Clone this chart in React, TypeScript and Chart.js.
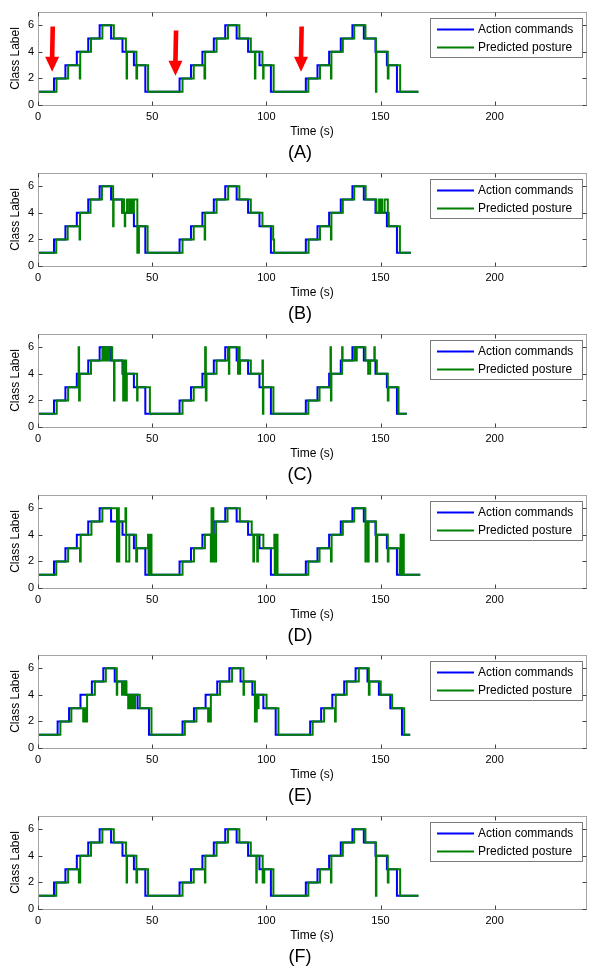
import React, { useEffect, useRef } from 'react';
import { Chart, registerables } from 'chart.js';

Chart.register(...registerables);

// ---------- data ----------
const xTicks = [0, 50, 100, 150, 200];
const yTicks = [0, 2, 4, 6];
const xMax = 240;
const yMax = 7;
const panelLetters = ['(A)', '(B)', '(C)', '(D)', '(E)', '(F)'];
const seriesNames = ['Action commands', 'Predicted posture'];
const xTitle = 'Time (s)';
const yTitle = 'Class Label';

// red arrows in panel A: time, top value, tip value
const arrowTimes = [6.2, 60.2, 115.2];
const arrowTops = [5.9, 5.6, 5.9];
const arrowTips = [2.5, 2.2, 2.5];

// [time, class]
const actionA = [[0,1],[7,2],[12,3],[17,4],[22,5],[27,6],[32,5],[37,4],[42,3],[47,1],[62,2],[67,3],[72,4],[77,5],[82,6],[87,5],[92,4],[97,3],[102,1],[117.3,2],[122.4,3],[127.5,4],[132.6,5],[137.7,6],[142.7,5],[147.8,4],[152.8,3],[157.2,1],[166.5,1]];
const postureA = [[0,1],[8.1,2],[13.2,3],[18.3,2],[18.5,4],[23.2,5],[28.2,6],[33.2,5],[38.5,4],[38.8,2],[39,4],[43.1,2],[43.4,3],[48.2,1],[63.3,2],[68.2,3],[72.9,2],[73.2,4],[78.2,5],[83.2,6],[88.2,5],[93.2,4],[95,2],[95.2,4],[98.3,3],[98.6,2],[98.8,3],[103.2,1],[118.4,2],[123.5,3],[128.3,2],[128.5,4],[133.5,5],[138.5,6],[143.4,5],[148,1],[148.2,4],[153.2,2],[153.5,3],[158.6,1],[166.7,1]];

const actionB = [[0,1],[7,2],[12,3],[17,4],[22,5],[27,6],[32,5],[37,4],[42,3],[47,1],[62,2],[67,3],[72,4],[77,5],[82,6],[87,5],[92,4],[97,3],[102,1],[117.3,2],[122.4,3],[127.5,4],[132.6,5],[137.7,6],[142.7,5],[147.8,4],[152.8,3],[157.2,1],[163.3,1]];
const postureB = [[0,1],[8,2],[13,3],[18.2,2],[18.4,4],[23,5],[28,6],[32.9,3],[33.1,5],[36.8,4],[37.5,5],[37.7,4],[38,3],[38.2,4],[39,5],[39.3,4],[40.2,5],[40.5,4],[41.2,5],[41.5,4],[42,5],[43.5,1],[43.7,3],[44,1],[44.2,3],[48,1],[63.3,2],[68.2,3],[73,2],[73.2,4],[78.2,5],[83.3,6],[88.2,5],[93.2,4],[98.3,3],[103,2],[103.4,1],[118.5,2],[123.5,3],[128.3,2],[128.5,4],[133.5,5],[138.5,6],[143.5,5],[148.2,4],[149.4,5],[149.7,4],[150.4,5],[150.7,4],[151.8,5],[153.2,4],[153.6,3],[158.5,1],[163.3,1]];

const actionC = [[0,1],[7,2],[12,3],[17,4],[22,5],[27,6],[32,5],[37,4],[42,3],[47,1],[62,2],[67,3],[72,4],[77,5],[82,6],[87,5],[92,4],[97,3],[102,1],[117.3,2],[122.4,3],[127.5,4],[132.6,5],[137.7,6],[142.7,5],[147.8,4],[152.8,3],[157.2,1],[161.5,1]];
const postureC = [[0,1],[8.2,2],[13.2,3],[17.8,6],[18,2],[18.3,4],[23.2,5],[28.2,6],[29,5],[29.3,6],[30,5],[30.3,6],[31,5],[31.3,6],[32.5,5],[33.3,2],[33.5,5],[37.3,2],[37.5,5],[38,2],[38.2,5],[38.6,2],[38.9,4],[43.4,2],[43.6,3],[49,1],[63.3,2],[68.2,3],[73.2,6],[73.5,2],[73.8,4],[78.2,5],[83.2,6],[83.6,4],[83.8,6],[87.6,4],[87.8,6],[88.3,4],[88.5,5],[93.2,4],[98.3,5],[98.5,1],[98.7,3],[103.1,1],[118.4,2],[123.3,3],[128.1,6],[128.3,2],[128.5,4],[133.2,6],[133.4,5],[138.5,6],[139.3,5],[139.6,6],[143.4,5],[144.6,4],[145.5,5],[147.3,6],[147.5,5],[148.4,4],[153.2,2],[153.5,3],[157.9,1],[161.5,1]];

const actionD = [[0,1],[7,2],[12,3],[17,4],[22,5],[27,6],[32,5],[37,4],[42,3],[47,1],[62,2],[67,3],[72,4],[77,5],[82,6],[87,5],[92,4],[97,3],[102,1],[117.3,2],[122.4,3],[127.5,4],[132.6,5],[137.7,6],[142.7,5],[147.8,4],[152.8,3],[157.2,1],[167.4,1]];
const postureD = [[0,1],[8,2],[13.2,3],[18.4,2],[18.7,4],[23.4,5],[28.2,6],[34.6,2],[34.8,6],[35,2],[35.2,6],[35.4,2],[35.6,5],[38.3,6],[38.6,2],[40,4],[43,2],[43.4,3],[48.2,4],[48.4,1],[48.6,4],[48.8,1],[49,4],[49.2,1],[49.5,4],[49.7,1],[63.3,2],[68.3,3],[73.1,4],[75.7,2],[76,6],[76.2,2],[76.6,6],[76.8,2],[77.3,4],[77.6,2],[78,5],[83,6],[88.4,5],[93.6,4],[94.3,2],[94.6,4],[96,2],[96.3,4],[98.7,3],[103.5,4],[103.7,1],[104,4],[104.3,1],[104.6,4],[104.9,1],[118.4,2],[123.3,3],[128.3,2],[128.6,4],[133.5,5],[138.5,6],[143.4,2],[143.6,5],[144.5,2],[144.8,5],[148,2],[148.6,4],[153.2,2],[153.5,3],[158.4,1],[158.8,4],[159.1,1],[159.4,4],[159.7,1],[160,4],[160.2,1],[167.4,1]];

const actionE = [[0,1],[8.6,2],[13.6,3],[18.6,4],[23.6,5],[28.6,6],[33.6,5],[38.6,4],[43.6,3],[48.6,1],[63.3,2],[68.3,3],[73.4,4],[78.5,5],[83.8,6],[88.7,5],[93.9,4],[98.7,3],[104.1,1],[119.2,2],[124,3],[128.9,4],[134.1,5],[139.1,6],[144.3,5],[149.3,4],[154.3,3],[159.4,1],[163,1]];
const postureE = [[0,1],[9.8,2],[14.6,3],[19.8,2],[20,3],[20.3,2],[20.5,3],[20.8,2],[21,3],[21.2,2],[21.5,4],[24.9,5],[29.7,6],[34.5,4],[34.7,5],[36.8,4],[37,5],[37.4,4],[37.6,5],[38,4],[38.2,5],[38.7,4],[39.5,3],[39.7,4],[40.2,3],[40.4,4],[40.9,3],[41.1,4],[41.6,3],[41.8,4],[42.3,3],[42.5,4],[44.6,3],[49.7,1],[64.3,2],[69.4,3],[74.5,2],[74.7,3],[75.5,2],[75.7,4],[79.7,5],[85,6],[90,4],[90.2,5],[95,2],[95.2,4],[95.6,2],[95.8,4],[96.4,3],[96.6,4],[100.1,3],[105.3,1],[120.3,2],[125.3,3],[130.1,2],[130.4,4],[135.2,5],[140.5,6],[144.9,4],[145.2,5],[150.1,4],[155.1,3],[160.4,1],[163,1]];

const actionF = [[0,1],[7,2],[12,3],[17,4],[22,5],[27,6],[32,5],[37,4],[42,3],[47,1],[62,2],[67,3],[72,4],[77,5],[82,6],[87,5],[92,4],[97,3],[102,1],[117.3,2],[122.4,3],[127.5,4],[132.6,5],[137.7,6],[142.7,5],[147.8,4],[152.8,3],[157.2,1],[166.5,1]];
const postureF = [[0,1],[8,2],[13.2,3],[17.9,2],[18.1,3],[18.3,2],[18.5,4],[23.2,5],[28.2,6],[33.2,5],[38.5,4],[38.8,2],[39,4],[43.1,2],[43.4,3],[48.2,1],[63.3,2],[68.2,3],[73.1,2],[73.3,4],[78.2,5],[83.2,6],[88.2,5],[93.2,4],[95.6,2],[95.8,4],[98.4,2],[98.6,3],[98.9,2],[99.1,3],[103.1,1],[118.4,2],[123.5,3],[128.3,2],[128.5,4],[133.5,5],[138.5,6],[143.4,5],[148,1],[148.2,4],[153.2,2],[153.5,3],[158.6,1],[166.7,1]];

const actionSeries = [actionA, actionB, actionC, actionD, actionE, actionF];
const postureSeries = [postureA, postureB, postureC, postureD, postureE, postureF];

// ---------- styling ----------
const FONT = "'Liberation Sans', Arial, Helvetica, sans-serif";
const PANEL_H = 161;
const panelTops = [0, 161, 322, 483, 643, 804];

const framePlugin = {
  id: 'matlabFrame',
  afterDatasetsDraw(chart: any) {
    const { ctx, chartArea: a, scales } = chart;
    const xs = scales.x, ys = scales.y;
    ctx.save();
    ctx.strokeStyle = '#a3a3a3';
    ctx.lineWidth = 1;
    const l = Math.round(a.left) + 0.5, t = Math.round(a.top) + 0.5;
    const r = Math.round(a.right) + 0.5, b = Math.round(a.bottom) + 0.5;
    ctx.strokeRect(l, t, r - l, b - t);
    ctx.strokeStyle = '#404040';
    ctx.beginPath();
    xTicks.forEach((v) => {
      const px = Math.round(xs.getPixelForValue(v)) + 0.5;
      ctx.moveTo(px, b); ctx.lineTo(px, b - 4);
      ctx.moveTo(px, t); ctx.lineTo(px, t + 4);
    });
    yTicks.forEach((v) => {
      const py = Math.round(ys.getPixelForValue(v)) + 0.5;
      ctx.moveTo(l, py); ctx.lineTo(l + 4, py);
      ctx.moveTo(r, py); ctx.lineTo(r - 4, py);
    });
    ctx.stroke();
    ctx.restore();
  },
};

const legendPlugin = {
  id: 'boxLegend',
  afterDatasetsDraw(chart: any) {
    const { ctx, chartArea: a } = chart;
    const w = 152, h = 39;
    const x0 = Math.round(a.right) - 156, y0 = Math.round(a.top) + 6;
    ctx.save();
    ctx.fillStyle = '#ffffff';
    ctx.fillRect(x0, y0, w, h);
    ctx.strokeStyle = '#7a7a7a';
    ctx.lineWidth = 1;
    ctx.strokeRect(x0 + 0.5, y0 + 0.5, w, h);
    chart.data.datasets.forEach((ds: any, i: number) => {
      const y = y0 + 11.5 + i * 18;
      ctx.strokeStyle = ds.borderColor;
      ctx.lineWidth = 2;
      ctx.beginPath();
      ctx.moveTo(x0 + 7, y);
      ctx.lineTo(x0 + 44, y);
      ctx.stroke();
      ctx.fillStyle = '#000';
      ctx.font = `12px ${FONT}`;
      ctx.textBaseline = 'middle';
      ctx.textAlign = 'left';
      ctx.fillText(ds.label, x0 + 48, y);
    });
    ctx.restore();
  },
};

const arrowPlugin = {
  id: 'redArrows',
  afterDatasetsDraw(chart: any, _args: any, opts: any) {
    if (!opts || !opts.show) return;
    const { ctx, scales } = chart;
    const xs = scales.x, ys = scales.y;
    ctx.save();
    ctx.fillStyle = '#ff0000';
    arrowTimes.forEach((tv, i) => {
      const cx = xs.getPixelForValue(tv);
      const yTop = ys.getPixelForValue(arrowTops[i]);
      const yTip = ys.getPixelForValue(arrowTips[i]);
      const headLen = 15, headHalf = 7, shaftHalf = 2.3;
      ctx.beginPath();
      ctx.moveTo(cx - shaftHalf + 0.6, yTop);
      ctx.lineTo(cx + shaftHalf + 0.6, yTop);
      ctx.lineTo(cx + shaftHalf, yTip - headLen);
      ctx.lineTo(cx + headHalf, yTip - headLen);
      ctx.lineTo(cx, yTip);
      ctx.lineTo(cx - headHalf, yTip - headLen);
      ctx.lineTo(cx - shaftHalf, yTip - headLen);
      ctx.closePath();
      ctx.fill();
    });
    ctx.restore();
  },
};

const noGrid = { display: false, drawTicks: false, tickLength: 0, drawOnChartArea: false };

function Panel({ index }: { index: number }) {
  const ref = useRef<HTMLCanvasElement>(null);
  useEffect(() => {
    const action = actionSeries[index];
    const posture = postureSeries[index];
    const chart = new Chart(ref.current as HTMLCanvasElement, {
      type: 'line',
      data: {
        datasets: [
          {
            label: seriesNames[0],
            data: action.map(([x, y]) => ({ x, y })),
            borderColor: '#0000ff',
            backgroundColor: '#0000ff',
            borderWidth: 2,
            stepped: true,
            pointRadius: 0,
            fill: false,
            order: 2,
          },
          {
            label: seriesNames[1],
            data: posture.map(([x, y]) => ({ x, y })),
            borderColor: '#008000',
            backgroundColor: '#008000',
            borderWidth: 2,
            stepped: true,
            pointRadius: 0,
            fill: false,
            order: 1,
          },
        ],
      },
      options: {
        animation: false,
        responsive: false,
        events: [],
        layout: { padding: { top: 12, right: 14, left: 0, bottom: 0 } },
        plugins: {
          legend: { display: false },
          tooltip: { enabled: false },
          redArrows: { show: index === 0 },
        } as any,
        scales: {
          x: {
            type: 'linear',
            min: 0,
            max: xMax,
            afterBuildTicks: (s: any) => { s.ticks = xTicks.map((v) => ({ value: v })); },
            afterFit: (s: any) => { s.height = 56; },
            grid: noGrid,
            border: { display: false },
            ticks: { color: '#000', font: { family: FONT, size: 11 }, padding: 5, maxRotation: 0, autoSkip: false },
            title: { display: true, text: xTitle, color: '#000', font: { family: FONT, size: 12 }, padding: { top: 0, bottom: 22 } },
          },
          y: {
            type: 'linear',
            min: 0,
            max: yMax,
            afterBuildTicks: (s: any) => { s.ticks = yTicks.map((v) => ({ value: v })); },
            afterFit: (s: any) => { s.width = 38; },
            grid: noGrid,
            border: { display: false },
            ticks: { color: '#000', font: { family: FONT, size: 11 }, padding: 4, autoSkip: false },
            title: { display: true, text: yTitle, color: '#000', font: { family: FONT, size: 12 }, padding: { top: 8, bottom: 0 } },
          },
        },
      } as any,
      plugins: [framePlugin, legendPlugin, arrowPlugin],
    });
    return () => chart.destroy();
  }, [index]);

  return (
    <div style={{ position: 'absolute', left: 0, top: panelTops[index], width: 600, height: PANEL_H }}>
      <canvas ref={ref} width={600} height={PANEL_H} style={{ display: 'block' }} />
      <div
        style={{
          position: 'absolute',
          left: 0,
          top: 142,
          width: 600,
          textAlign: 'center',
          fontFamily: FONT,
          fontSize: 18,
          lineHeight: '21px',
          color: '#000',
        }}
      >
        {panelLetters[index]}
      </div>
    </div>
  );
}

export default function App() {
  return (
    <div style={{ position: 'absolute', left: 0, top: 0, width: 600, height: 975, background: '#fff' }}>
      {panelLetters.map((_, i) => (
        <Panel key={i} index={i} />
      ))}
    </div>
  );
}
